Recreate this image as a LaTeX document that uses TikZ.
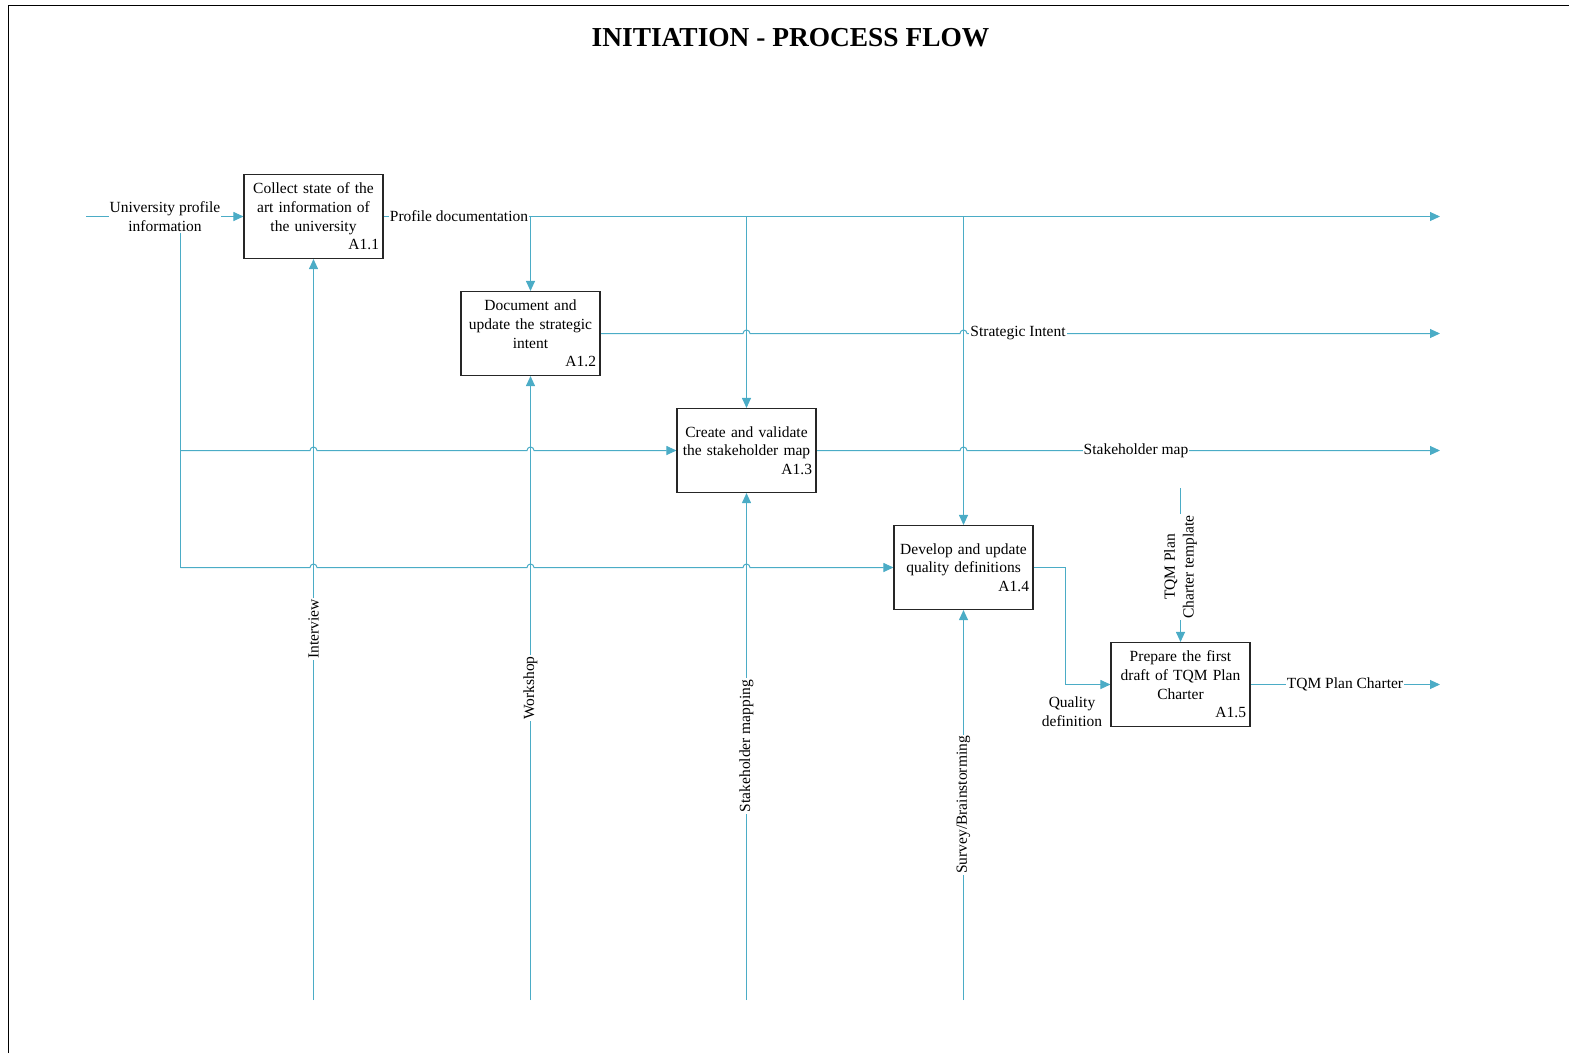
\documentclass[tikz,border=0pt]{standalone}
\usepackage{fontspec}
\setmainfont{Liberation Serif}
\usetikzlibrary{arrows.meta,calc,backgrounds}
\definecolor{flow}{HTML}{4BACC6}
\definecolor{boxline}{HTML}{262626}
% a small bump where a horizontal flow line crosses a vertical one
\newcommand\hopx[2]{-- ($(#1 |- #2)+(-3.5pt,0)$) arc[start angle=180,end angle=0,radius=3.5pt]}
\begin{document}
\begin{tikzpicture}[x=1pt,y=-1pt,
  every node/.style={font=\fontsize{15.5}{18.6}\selectfont},
  proc/.style={draw=boxline, line width=1.1pt, fill=white,
    minimum width=139pt, minimum height=84pt, text width=131pt,
    align=center, inner xsep=4pt, inner ysep=0pt},
  tag/.style={fill=white, inner sep=1pt},
  vtag/.style={fill=white, inner sep=1.5pt, rotate=90},
  flowline/.style={draw=flow, line width=1pt},
  tip/.style={-{Triangle[length=10pt,width=9pt]}}]
\useasboundingbox (0,0) rectangle (1569,1053);
\draw[line width=1.3pt] (8.5,1053) -- (8.5,5.5) -- (1569,5.5);

\node[font=\bfseries\fontsize{27.4}{32}\selectfont] (title) at (790.5,38) {INITIATION - PROCESS FLOW};

% activity boxes
\node[proc] (a1) at (313.5,216.5) {Collect state of the\\art information of\\the university\\\hfill A1.1};
\node[proc] (a2) at (530.5,333.5) {Document and\\update the strategic\\intent\\\hfill A1.2};
\node[proc] (a3) at (746.5,450.5) {Create and validate\\the stakeholder map\\\hfill A1.3};
\node[proc] (a4) at (963.5,567.5) {Develop and update\\quality definitions\\\hfill A1.4};
\node[proc] (a5) at (1180.5,684.5) {Prepare the first\\draft of TQM Plan\\Charter\\\hfill A1.5};

% arrow labels
\node[tag,align=center] (uni) at (165,216.5) {University profile\\information};
\node[tag] (prof) at (459,216.5) {Profile documentation};
\node[tag] (strat) at (1018,333.5) {Strategic Intent};
\node[tag] (stake) at (1136,450.5) {Stakeholder map};
\node[tag] (charter) at (1345,684.5) {TQM Plan Charter};
\node[align=center] (qual) at (1072,711.5) {Quality\\definition};
\node[vtag] (interview) at (313.5,629) {Interview};
\node[vtag] (workshop) at (530.5,688) {Workshop};
\node[vtag] (mapping) at (746.5,746) {Stakeholder mapping};
\node[vtag] (survey) at (963.5,805) {Survey/Brainstorming};
\node[vtag,align=center] (tmpl) at (1180.5,567) {TQM Plan\\Charter template};

% free ends of the flow lines
\coordinate (src) at (86,216.5);
\coordinate (o1) at (1440,216.5);
\coordinate (o2) at (1440,333.5);
\coordinate (o3) at (1440,450.5);
\coordinate (o5) at (1440,684.5);
\coordinate (m1) at (313.5,1000);
\coordinate (m2) at (530.5,1000);
\coordinate (m3) at (746.5,1000);
\coordinate (m4) at (963.5,1000);
\coordinate (c5) at (1180.5,488);
\coordinate (split) at (180.5,567.5);
\coordinate (bend) at (1065.5,567.5);

\begin{pgfonlayer}{background}
\draw[flowline,tip] (src) -- (a1.west);
\draw[flowline,tip] (a1.east) -- (o1);
\draw[flowline,tip] (a2.north |- a1.east) -- (a2.north);
\draw[flowline,tip] (a3.north |- a1.east) -- (a3.north);
\draw[flowline,tip] (a4.north |- a1.east) -- (a4.north);
\draw[flowline,tip] (a2.east) \hopx{a3.north}{a2.east} \hopx{a4.north}{a2.east} -- (o2);
\draw[flowline,tip] (a3.east) \hopx{a4.north}{a3.east} -- (o3);
\draw[flowline] (split |- uni.south) -- (split);
\draw[flowline,tip] (split |- a3.west) \hopx{a1.south}{a3.west} \hopx{a2.south}{a3.west} -- (a3.west);
\draw[flowline,tip] (split) \hopx{a1.south}{a4.west} \hopx{a2.south}{a4.west} \hopx{a3.south}{a4.west} -- (a4.west);
\draw[flowline,tip] (a4.east) -- (bend) |- (a5.west);
\draw[flowline,tip] (c5) -- (a5.north);
\draw[flowline,tip] (a5.east) -- (o5);
\foreach \i in {1,...,4} \draw[flowline,tip] (m\i) -- (a\i.south);
\end{pgfonlayer}
\end{tikzpicture}
\end{document}
